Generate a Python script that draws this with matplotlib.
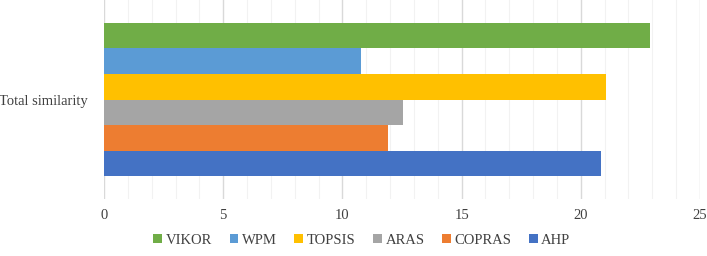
import matplotlib.pyplot as plt
import numpy as np

category = 'Total similarity'
methods = ['AHP', 'COPRAS', 'ARAS', 'TOPSIS', 'WPM', 'VIKOR']
values = [20.85, 11.9, 12.55, 21.05, 10.8, 22.9]
colors = ['#4472C4', '#ED7D31', '#A5A5A5', '#FFC000', '#5B9BD5', '#70AD47']

plt.rcParams['font.family'] = ['Liberation Serif', 'DejaVu Serif']

fig = plt.figure(figsize=(7.07, 2.56), dpi=100)
ax = fig.add_axes([104 / 707, 1 - 199 / 256, 596 / 707, 199 / 256])

n = len(methods)
group = 0.77
h = group / n
handles = []
for i, (m, v, c) in enumerate(zip(methods, values, colors)):
    y = -group / 2 + h * (i + 0.5)
    b = ax.barh(y, v, height=h, color=c, label=m, zorder=3)
    handles.append(b)

ax.set_xlim(0, 25)
ax.set_ylim(-0.5, 0.5)
ax.set_yticks([0])
ax.set_yticklabels([category])
ax.set_xticks(np.arange(0, 26, 5))
ax.set_xticks(np.arange(0, 26, 1), minor=True)
ax.grid(axis='x', which='major', color='#D9D9D9', linewidth=1, zorder=0)
ax.grid(axis='x', which='minor', color='#F2F2F2', linewidth=0.8, zorder=0)
for s in ax.spines.values():
    s.set_visible(False)
ax.tick_params(axis='both', which='both', length=0, labelsize=10.5, colors='#404040')
ax.tick_params(axis='x', pad=7)
ax.tick_params(axis='y', pad=11.5)

fig.legend(handles[::-1], methods[::-1], loc='center', bbox_to_anchor=(0.512, 0.062),
           ncol=6, frameon=False, handlelength=0.6, handleheight=0.6,
           handletextpad=0.25, columnspacing=1.2, labelcolor='#404040',
           prop={'family': 'Liberation Serif', 'size': 10.5})

fig.savefig('out.png', dpi=100)
